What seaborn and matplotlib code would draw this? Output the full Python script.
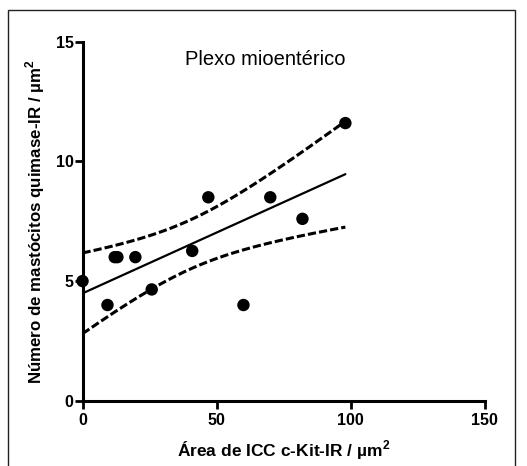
import numpy as np
import pandas as pd
import matplotlib
matplotlib.use("Agg")
import matplotlib.pyplot as plt
from matplotlib.patches import Rectangle
import seaborn as sns

# Data
area_icc = [0.0, 9.3, 12.0, 13.0, 19.7, 25.8, 40.9, 46.9, 60.0, 70.0, 82.0, 98.0]
mastocitos = [5.0, 4.0, 6.0, 6.0, 6.0, 4.65, 6.26, 8.5, 4.0, 8.5, 7.6, 11.6]
x_ticks = [0, 50, 100, 150]
y_ticks = [0, 5, 10, 15]
title_text = "Plexo mioentérico"
x_label = "Área de ICC c-Kit-IR / µm$^\\mathbf{2}$"
y_label = "Número de mastócitos quimase-IR / µm$^\\mathbf{2}$"

sns.set_style("ticks")
plt.rcParams['font.family'] = ['Liberation Sans', 'DejaVu Sans']
plt.rcParams['mathtext.fontset'] = 'custom'
plt.rcParams['mathtext.rm'] = 'Liberation Sans'
plt.rcParams['mathtext.bf'] = 'Liberation Sans:bold'
plt.rcParams['text.color'] = 'black'
plt.rcParams['axes.labelcolor'] = 'black'
plt.rcParams['xtick.color'] = 'black'
plt.rcParams['ytick.color'] = 'black'

df = pd.DataFrame({"x": area_icc, "y": mastocitos})

fig = plt.figure(figsize=(5.27, 4.66), dpi=100)
ax = fig.add_axes([0.1566, 0.140, 0.920 - 0.1566, 0.9105 - 0.140])

sns.regplot(data=df, x="x", y="y", ci=None, ax=ax, truncate=True,
            scatter_kws=dict(s=80, color="black", alpha=1, edgecolor="none",
                             zorder=3, clip_on=False),
            line_kws=dict(color="black", lw=1.6))

# 95% confidence band of the linear fit
x = np.asarray(area_icc)
y = np.asarray(mastocitos)
n = len(x)
b1, b0 = np.polyfit(x, y, 1)
resid = y - (b0 + b1 * x)
s = np.sqrt(np.sum(resid ** 2) / (n - 2))
t_val = 2.2281  # t(0.975, df=10)
xg = np.linspace(x.min(), x.max(), 200)
yg = b0 + b1 * xg
half = t_val * s * np.sqrt(1.0 / n + (xg - x.mean()) ** 2 / np.sum((x - x.mean()) ** 2))
band = pd.DataFrame({"x": np.concatenate([xg, xg]),
                     "y": np.concatenate([yg + half, yg - half]),
                     "side": ["up"] * len(xg) + ["lo"] * len(xg)})
for side in ["up", "lo"]:
    sns.lineplot(data=band[band.side == side], x="x", y="y", ax=ax, color="black",
                 lw=2.2, linestyle=(0, (2.7, 1.0)), sort=False)

ax.set_xlim(0, 150)
ax.set_ylim(0, 15)
ax.set_xticks(x_ticks)
ax.set_yticks(y_ticks)
ax.set_xticklabels([str(t) for t in x_ticks], fontsize=11.5, fontweight="bold")
ax.set_yticklabels([str(t) for t in y_ticks], fontsize=11.5, fontweight="bold")
ax.tick_params(axis="x", direction="out", length=5.5, width=2, pad=3, color="black")
ax.tick_params(axis="y", direction="out", length=5.5, width=2, pad=1, color="black")
for sp in ["left", "bottom"]:
    ax.spines[sp].set_linewidth(2.2)
    ax.spines[sp].set_color("black")
sns.despine(ax=ax)

ax.set_xlabel(x_label, fontsize=12.5, fontweight="bold", labelpad=8)
ax.set_ylabel(y_label, fontsize=12.2, fontweight="bold", labelpad=6)
ax.text(68, 14.25, title_text, fontsize=14.5, ha="center", va="center")

fig.patches.append(Rectangle((8 / 527, -0.02), (515 - 8) / 527, 1 - 10 / 466 + 0.02,
                             transform=fig.transFigure, fill=False, edgecolor="#222222",
                             lw=1.0, zorder=0))

fig.savefig("out.png", dpi=100)
